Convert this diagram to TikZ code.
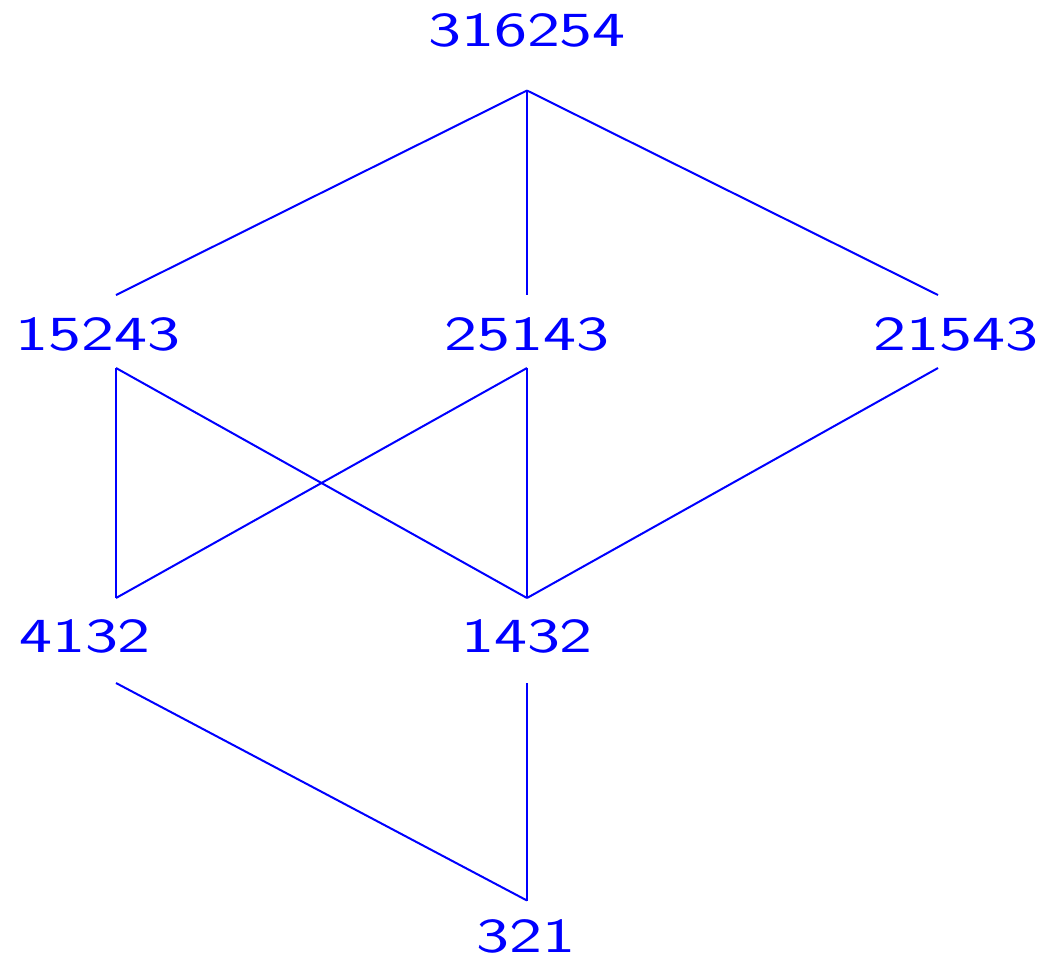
\documentclass[tikz,border=0pt]{standalone}
\usepackage{fontspec}
\usepackage{graphicx}
\definecolor{pblue}{RGB}{0,0,255}
% permutation labels: Latin Modern Sans, widened
\newcommand\permtext[1]{\scalebox{1.43}[1]{#1}}
\begin{document}
\begin{tikzpicture}[x=0.5pt,y=-0.5pt,
  perm/.style={anchor=base,inner sep=0pt,text=pblue,
    font=\sffamily\fontsize{24.5}{29}\selectfont},
  cover/.style={draw=pblue,line width=1pt}]
\useasboundingbox (0,0) rectangle (1044,959);

% labels
\node[perm] (p316254) at (527,46)  {\permtext{316254}};
\node[perm] (p15243)  at (98,350)  {\permtext{15243}};
\node[perm] (p25143)  at (527,350) {\permtext{25143}};
\node[perm] (p21543)  at (956,350) {\permtext{21543}};
\node[perm] (p4132)   at (85,652)  {\permtext{4132}};
\node[perm] (p1432)   at (527,652) {\permtext{1432}};
\node[perm] (p321)    at (526,952) {\permtext{321}};

% line ends above (n) and below (s) each label
\coordinate (p316254-s) at (527,90.5);
\coordinate (p15243-n)  at (116,295);
\coordinate (p15243-s)  at (116,368);
\coordinate (p25143-n)  at (527,295);
\coordinate (p25143-s)  at (527,368);
\coordinate (p21543-n)  at (938,295);
\coordinate (p21543-s)  at (938,368);
\coordinate (p4132-n)   at (116,598);
\coordinate (p4132-s)   at (116,683);
\coordinate (p1432-n)   at (527,598);
\coordinate (p1432-s)   at (527,683);
\coordinate (p321-n)    at (527,900.5);

% cover relations
\draw[cover] (p316254-s) -- (p15243-n);
\draw[cover] (p316254-s) -- (p25143-n);
\draw[cover] (p316254-s) -- (p21543-n);
\draw[cover] (p15243-s) -- (p4132-n);
\draw[cover] (p15243-s) -- (p1432-n);
\draw[cover] (p25143-s) -- (p4132-n);
\draw[cover] (p25143-s) -- (p1432-n);
\draw[cover] (p21543-s) -- (p1432-n);
\draw[cover] (p4132-s) -- (p321-n);
\draw[cover] (p1432-s) -- (p321-n);
\end{tikzpicture}
\end{document}
